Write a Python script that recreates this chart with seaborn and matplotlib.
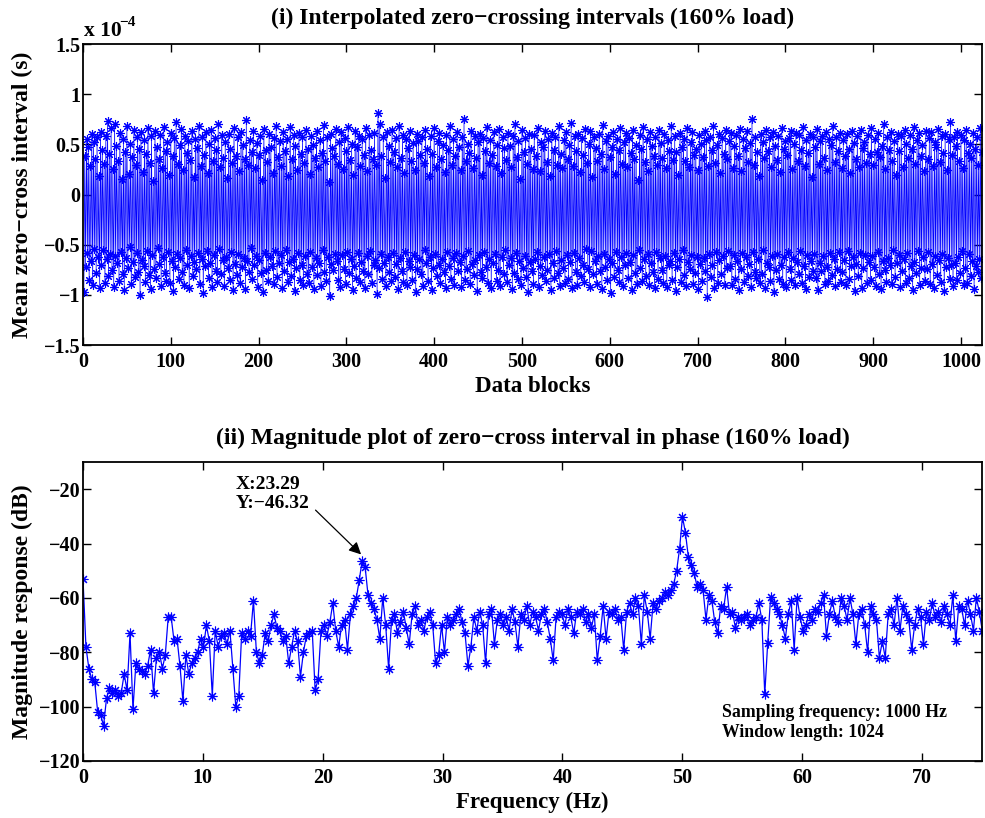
import numpy as np
import matplotlib
matplotlib.use("Agg")
import matplotlib.pyplot as plt
import seaborn as sns

# ---------------- data ----------------
# Top panel: mean zero-cross interval, in hundredths of 1e-4 s.
# Odd samples (1st, 3rd, ...) are negative, even samples positive.
neg_interval_cs = [
    97, 72, 58, 85, 66, 90, 54, 78, 62, 93, 70, 55, 88, 64, 81, 59,
    75, 92, 61, 68, 86, 57, 79, 95, 63, 73, 52, 89, 67, 82, 58, 77,
    100, 65, 71, 87, 56, 80, 94, 60, 74, 83, 53, 69, 91, 62, 78, 86,
    57, 88, 66, 96, 72, 59, 84, 63, 77, 90, 55, 70, 93, 61, 81, 67,
    74, 58, 89, 64, 98, 71, 56, 83, 68, 92, 60, 76, 87, 54, 79, 65,
    91, 62, 73, 85, 57, 95, 69, 80, 59, 88, 72, 63, 94, 66, 77, 53,
    84, 70, 61, 92, 65, 78, 97, 58, 75, 86, 62, 71, 89, 56, 82, 68,
    60, 93, 76, 55, 87, 67, 81, 64, 96, 73, 58, 85, 70, 90, 61, 79,
    88, 57, 72, 94, 63, 80, 68, 91, 55, 77, 86, 62, 101, 69, 75, 59,
    66, 85, 92, 60, 74, 89, 57, 78, 64, 95, 71, 83, 58, 87, 67, 76,
    93, 61, 79, 56, 88, 70, 65, 99, 73, 59, 84, 68, 91, 62, 77, 86,
    58, 82, 69, 94, 63, 76, 87, 57, 90, 66, 72, 85, 60, 97, 74, 64,
    79, 91, 55, 68, 86, 62, 95, 73, 59, 81, 70, 88, 64, 77, 93, 57,
    71, 84, 63, 90, 58, 76, 67, 92, 61, 85, 74, 56, 89, 69, 80, 65,
    96, 60, 77, 83, 57, 72, 88, 64, 93, 68, 59, 86, 75, 91, 62, 79,
    55, 87, 70, 63, 94, 78, 58, 84, 66, 90, 73, 61, 82, 97, 67, 76,
    89, 64, 57, 92, 71, 80, 62, 86, 75, 59, 95, 68, 83, 56, 78, 91,
    65, 73, 88, 60, 84, 67, 93, 58, 77, 90, 63, 81, 70, 87, 54, 74,
    92, 56, 79, 66, 89, 61, 76, 94, 59, 72, 85, 64, 98, 68, 82, 57,
    75, 87, 62, 91, 70, 58, 83, 67, 95, 60, 78, 89, 55, 73, 86, 64,
    81, 59, 90, 68, 77, 93, 57, 84, 63, 75, 88, 61, 92, 70, 66, 85,
    58, 96, 72, 64, 87, 55, 80, 91, 67, 74, 60, 89, 78, 62, 94, 69,
    86, 63, 76, 102, 59, 82, 70, 93, 57, 88, 65, 79, 61, 90, 73, 56,
    71, 90, 60, 84, 66, 95, 74, 58, 87, 62, 81, 69, 92, 57, 77, 83,
    64, 88, 79, 55, 93, 68, 72, 86, 61, 97, 75, 59, 84, 70, 89, 62,
    92, 57, 74, 85, 63, 90, 67, 79, 56, 88, 71, 94, 60, 82, 66, 76,
    59, 83, 95, 68, 76, 61, 89, 72, 86, 58, 80, 64, 91, 74, 57, 87,
    77, 65, 90, 56, 84, 71, 62, 96, 69, 81, 58, 93, 73, 60, 88, 67,
    85, 61, 72, 91, 57, 79, 94, 66, 75, 87, 63, 70, 89, 55, 82, 68,
    60, 92, 76, 64, 88, 58, 83, 71, 95, 67, 78, 56, 90, 73, 62, 86,
    74, 57, 89, 69, 93, 61, 80, 65, 87, 59, 96, 72, 63, 84, 70, 91,
    68, 85, 62, 78, 56, 90, 73, 88, 59, 81, 66, 94, 71, 77, 64, 83,
]
pos_interval_cs = [
    38, 55, 47, 28, 60, 52, 35, 57, 18, 62, 44, 30, 58, 73, 40, 66,
    25, 70, 48, 33, 61, 15, 55, 42, 68, 20, 50, 37, 64, 29, 57, 45,
    62, 22, 54, 40, 66, 31, 58, 13, 63, 47, 35, 59, 26, 67, 43, 52,
    19, 61, 38, 56, 72, 30, 49, 65, 24, 58, 41, 53, 34, 63, 17, 55,
    46, 68, 28, 57, 39, 62, 21, 50, 64, 33, 56, 44, 70, 27, 59, 36,
    52, 16, 60, 45, 31, 66, 38, 57, 23, 62, 49, 35, 74, 29, 54, 42,
    63, 26, 51, 39, 58, 14, 65, 44, 32, 60, 47, 21, 56, 68, 37, 53,
    28, 62, 43, 55, 18, 67, 35, 59, 48, 24, 61, 40, 57, 31, 64, 45,
    20, 58, 49, 36, 63, 27, 54, 41, 69, 33, 57, 12, 60, 46, 38, 65,
    30, 52, 62, 25, 56, 43, 67, 34, 50, 19, 63, 47, 58, 28, 55, 39,
    66, 23, 59, 44, 35, 61, 29, 81, 70, 38, 57, 16, 62, 48, 32, 64,
    42, 56, 27, 68, 36, 59, 21, 55, 46, 63, 33, 51, 24, 60, 53, 39,
    57, 31, 64, 45, 18, 58, 40, 66, 27, 53, 61, 35, 49, 22, 59, 44,
    68, 29, 55, 38, 62, 47, 24, 57, 75, 33, 50, 41, 63, 26, 58, 36,
    52, 60, 19, 56, 43, 67, 31, 54, 39, 62, 28, 49, 65, 21, 57, 46,
    34, 61, 48, 27, 58, 70, 37, 53, 15, 64, 42, 56, 30, 60, 45, 25,
    59, 38, 66, 23, 52, 47, 63, 32, 55, 18, 61, 44, 57, 29, 68, 40,
    26, 54, 62, 35, 49, 71, 28, 58, 43, 60, 22, 56, 39, 65, 31, 50,
    63, 17, 57, 46, 33, 60, 40, 69, 25, 53, 58, 37, 47, 62, 20, 55,
    44, 66, 30, 52, 61, 27, 56, 41, 64, 35, 49, 14, 59, 45, 67, 32,
    55, 23, 62, 48, 38, 57, 29, 64, 51, 36, 60, 26, 54, 43, 68, 34,
    58, 42, 19, 61, 47, 55, 33, 66, 27, 52, 62, 39, 45, 24, 59, 50,
    37, 63, 54, 28, 57, 44, 68, 31, 49, 60, 21, 56, 40, 64, 35, 53,
    61, 26, 48, 59, 38, 65, 23, 55, 46, 63, 32, 51, 75, 29, 57, 42,
    18, 60, 52, 36, 64, 43, 57, 27, 62, 48, 34, 58, 22, 66, 45, 53,
    39, 56, 63, 25, 50, 61, 33, 59, 44, 67, 28, 54, 41, 60, 17, 57,
    47, 65, 30, 53, 58, 36, 62, 24, 55, 49, 68, 32, 57, 43, 61, 26,
    54, 38, 60, 45, 21, 63, 51, 35, 58, 27, 64, 46, 52, 31, 59, 40,
    66, 29, 55, 42, 61, 37, 48, 70, 25, 57, 44, 62, 33, 53, 19, 60,
    43, 58, 27, 64, 50, 36, 59, 45, 67, 30, 54, 61, 38, 49, 23, 63,
    35, 56, 62, 28, 52, 47, 65, 32, 58, 41, 60, 24, 55, 72, 39, 57,
    48, 62, 33, 59, 26, 54, 64, 41, 50, 36, 61, 45, 57, 29, 66, 42,
]

# Bottom panel: magnitude response (dB), bin width in Hz
freq_bin_hz = 0.24516
magnitude_db = [
    -53, -78, -86, -90, -91,
    -102, -103, -107, -97,
    -93, -95, -94, -96,
    -95, -88, -94, -73,
    -101, -84, -86, -87,
    -88, -85, -79, -95,
    -82, -80, -86, -81,
    -67, -67, -76, -75,
    -85, -98, -81, -88,
    -84, -82, -80, -75,
    -78, -70, -76, -96,
    -72, -78, -74, -73,
    -77, -72, -86, -100,
    -96, -73, -75, -72,
    -74, -61, -80, -84,
    -81, -73, -76, -70,
    -66, -71, -72, -76,
    -74, -84, -78, -72,
    -76, -89, -80, -74,
    -73, -72, -94, -90,
    -72, -70, -74, -69,
    -62, -72, -78, -70,
    -68, -79, -66, -63,
    -60, -53.5, -46.32, -48.6,
    -59, -62, -64, -68,
    -75, -60, -70, -86,
    -68, -66, -73, -69,
    -65, -71, -77, -66,
    -63, -70, -68, -72,
    -67, -65, -70, -84,
    -81, -70, -80, -67,
    -70, -68, -66, -64,
    -69, -73, -85, -78,
    -67, -72, -65, -70,
    -84, -66, -64, -77,
    -68, -66, -70, -67,
    -72, -64, -69, -78,
    -66, -68, -63, -70,
    -65, -67, -72, -66,
    -64, -69, -75, -83,
    -67, -65, -66, -70,
    -64, -67, -73, -65,
    -66, -64, -69, -66,
    -71, -66, -83, -74,
    -63, -75, -65, -66,
    -64, -68, -67, -79,
    -65, -62, -66, -60,
    -63, -77, -59, -65,
    -75, -62, -64, -61,
    -60, -58, -59, -57,
    -55, -50, -42, -30.2,
    -36, -45, -48, -51,
    -56, -55, -57, -68,
    -59, -61, -69, -73,
    -63, -64, -56, -66,
    -65, -71, -67, -68,
    -67, -66, -70, -68,
    -67, -62, -68, -95.5,
    -76.5, -59.5, -62, -64,
    -66, -70, -75, -66,
    -61, -79, -60, -67,
    -72, -70, -66, -68,
    -64, -65, -62, -59,
    -74, -66, -61, -67,
    -69, -60, -63, -68,
    -60, -66, -77, -66,
    -64, -70, -80, -63,
    -66, -68, -82, -76,
    -82, -66, -64, -70,
    -60, -72, -63, -66,
    -68, -79, -70, -64,
    -67, -77, -65, -68,
    -62, -67, -65, -69,
    -63, -66, -70, -59,
    -76, -63, -64, -70,
    -61, -66, -72, -60,
    -65, -72,
]

top_xticks = [0, 100, 200, 300, 400, 500, 600, 700, 800, 900, 1000]
top_yticks = [-1.5, -1, -0.5, 0, 0.5, 1, 1.5]
top_yticklabels = ["\u22121.5", "\u22121", "\u22120.5", "0", "0.5", "1", "1.5"]
bot_xticks = [0, 10, 20, 30, 40, 50, 60, 70]
bot_yticks = [-120, -100, -80, -60, -40, -20]

# ---------------- assemble ----------------
interval = np.empty(len(neg_interval_cs) + len(pos_interval_cs))
interval[0::2] = -np.array(neg_interval_cs) / 100.0
interval[1::2] = np.array(pos_interval_cs) / 100.0
blocks = np.arange(1, len(interval) + 1)

mag = np.array(magnitude_db, dtype=float)
freqs = np.arange(len(mag)) * freq_bin_hz

# ---------------- style ----------------
sns.set_theme(style="ticks")
plt.rcParams.update({
    "font.family": ["Liberation Serif", "DejaVu Serif"],
    "font.weight": "bold",
    "axes.labelweight": "bold",
    "axes.titleweight": "bold",
    "text.color": "black",
    "axes.labelcolor": "black",
    "xtick.color": "black",
    "ytick.color": "black",
    "axes.edgecolor": "black",
    "axes.unicode_minus": True,
})

W, H = 985, 818
fig = plt.figure(figsize=(W / 100, H / 100), dpi=100)
ax1 = fig.add_axes([83 / W, (H - 345) / H, 899 / W, 301 / H])
ax2 = fig.add_axes([83 / W, (H - 761) / H, 899 / W, 299 / H])

asterisk = (8, 2, 0)
blue = "#0000FF"

sns.lineplot(x=blocks, y=interval, ax=ax1, color=blue, linewidth=0.5,
             marker=asterisk, markersize=6.5, markeredgecolor=blue,
             markeredgewidth=0.8, estimator=None, sort=False)
sns.lineplot(x=freqs, y=mag, ax=ax2, color=blue, linewidth=0.9,
             marker=asterisk, markersize=7, markeredgecolor=blue,
             markeredgewidth=0.8, estimator=None, sort=False)

for ax in (ax1, ax2):
    for s in ax.spines.values():
        s.set_linewidth(1.3)
        s.set_color("black")
    ax.tick_params(direction="in", top=True, right=True, length=6, width=1,
                   labelsize=14.5)
    ax.tick_params(axis="x", pad=5)
    ax.tick_params(axis="y", pad=2)

ax1.set_xlim(0, 1024)
ax1.set_ylim(-1.5, 1.5)
ax1.set_xticks(top_xticks)
ax1.set_xticklabels([str(t) for t in top_xticks], fontweight="bold")
ax1.set_yticks(top_yticks)
ax1.set_yticklabels(top_yticklabels, fontweight="bold")
ax1.set_xlabel("Data blocks", fontsize=16.5, fontweight="bold")
ax1.set_ylabel("Mean zero\u2212cross interval (s)", fontsize=17, fontweight="bold")
ax1.xaxis.label.set_va("center")
ax1.yaxis.label.set_va("center")
ax1.xaxis.set_label_coords(0.5, (345 - 386) / 301)
ax1.yaxis.set_label_coords((22 - 83) / 899, 0.5)

ax2.set_xlim(0, 75)
ax2.set_ylim(-120, -10)
ax2.set_xticks(bot_xticks)
ax2.set_xticklabels([str(t) for t in bot_xticks], fontweight="bold")
ax2.set_yticks(bot_yticks)
ax2.set_yticklabels([str(t).replace("-", "\u2212") for t in bot_yticks], fontweight="bold")
ax2.set_xlabel("Frequency (Hz)", fontsize=16.5, fontweight="bold")
ax2.set_ylabel("Magnitude response (dB)", fontsize=17, fontweight="bold")
ax2.xaxis.label.set_va("center")
ax2.yaxis.label.set_va("center")
ax2.xaxis.set_label_coords(0.5, (761 - 802) / 299)
ax2.yaxis.set_label_coords((22 - 83) / 899, 0.5)

fig.text(533 / W, 1 - 18 / H, "(i) Interpolated zero\u2212crossing intervals (160% load)",
         ha="center", va="center", fontsize=17, fontweight="bold")
fig.text(533 / W, 1 - 438 / H,
         "(ii) Magnitude plot of zero\u2212cross interval in phase (160% load)",
         ha="center", va="center", fontsize=17, fontweight="bold")

# exponent label
fig.text(84 / W, 1 - 31 / H, "x 10", ha="left", va="center", fontsize=15.5, fontweight="bold")
fig.text(119 / W, 1 - 22 / H, "\u22124", ha="left", va="center", fontsize=11, fontweight="bold")

# data tip annotation
ax2.text(12.7, -15.0, "X:23.29\nY:\u221246.32", ha="left", va="top",
         fontsize=14, fontweight="bold", linespacing=1.2)
ax2.annotate("", xy=(23.2, -44.0), xytext=(19.4, -27.7),
             arrowprops=dict(arrowstyle="-|>", color="black", lw=0.9,
                             mutation_scale=18, shrinkA=0, shrinkB=0))

ax2.text(53.3, -105.8, "Sampling frequency: 1000 Hz\nWindow length: 1024",
         ha="left", va="center", fontsize=12.8, fontweight="bold", linespacing=1.2)

fig.savefig("out.png", dpi=100)
